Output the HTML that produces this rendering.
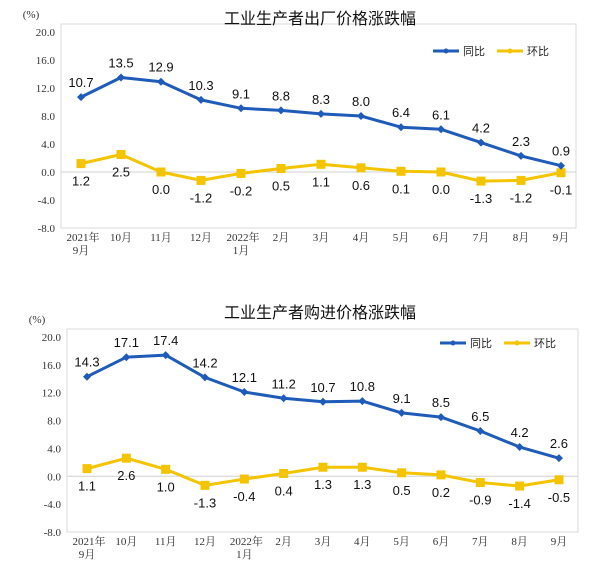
<!DOCTYPE html>
<html><head><meta charset="utf-8"><style>
body{margin:0;background:#fff;width:611px;height:567px;overflow:hidden}
svg text{font-family:"Liberation Sans","Noto Sans CJK SC",sans-serif}
.ax{font-family:"Liberation Serif","Noto Serif CJK SC",serif;font-size:11px;fill:#333}
.lb{font-size:13px;fill:#111}
</style></head><body>
<svg id="s" width="611" height="567" xmlns="http://www.w3.org/2000/svg"></svg>
<script>
const cats1=["2021年|9月","10月","11月","12月","2022年|1月","2月","3月","4月","5月","6月","7月","8月","9月"];
const ppiYoY=[10.7,13.5,12.9,10.3,9.1,8.8,8.3,8.0,6.4,6.1,4.2,2.3,0.9];
const ppiMoM=[1.2,2.5,0.0,-1.2,-0.2,0.5,1.1,0.6,0.1,0.0,-1.3,-1.2,-0.1];
const ippYoY=[14.3,17.1,17.4,14.2,12.1,11.2,10.7,10.8,9.1,8.5,6.5,4.2,2.6];
const ippMoM=[1.1,2.6,1.0,-1.3,-0.4,0.4,1.3,1.3,0.5,0.2,-0.9,-1.4,-0.5];
const yTicks=[20,16,12,8,4,0,-4,-8];
const NS="http://www.w3.org/2000/svg";
const svg=document.getElementById('s');
function el(t,a,p){const e=document.createElementNS(NS,t);for(const k in a)e.setAttribute(k,a[k]);(p||svg).appendChild(e);return e;}
function chart(cfg){
  const g=el('g',{});
  
  
  const y=v=>cfg.y0+(20-v)*(cfg.y1-cfg.y0)/28;
  const x=i=>cfg.x0+i*cfg.dx;
  const box=el('rect',{x:cfg.bl,y:cfg.y0-8,width:cfg.br-cfg.bl,height:cfg.y1-cfg.y0+8,fill:'none',stroke:'#d9d9d9'},g);
  
  
  el('line',{x1:cfg.bl,x2:cfg.br,y1:y(0),y2:y(0),stroke:'#d0d0d0'},g);
  const t=el('text',{x:cfg.tx,y:cfg.ty,'font-size':'16',fill:'#111','text-anchor':'middle'},g);
  t.textContent=cfg.title;
  
  
  const u=el('text',{x:cfg.bl-30,y:cfg.y0-14,class:'ax','text-anchor':'middle'},g);u.textContent='(%)';
  
  
  yTicks.forEach(v=>{const tt=el('text',{x:cfg.bl-6,y:y(v)+4,class:'ax','text-anchor':'end'},g);tt.textContent=v.toFixed(1);
    
    });
  cats1.forEach((c,i)=>{const p=c.split('|');p.forEach((s,j)=>{const tt=el('text',{x:x(i)+(j==0&&p.length>1?2:0),y:cfg.y1+13+j*13,class:'ax','text-anchor':'middle'},g);tt.textContent=s;
    
    });});
  [[cfg.mom,'#f5c400','mom',1],[cfg.yoy,'#1f5bb8','yoy',0]].forEach(([d,col,nm,isM])=>{
    const pl=el('polyline',{points:d.map((v,i)=>x(i)+','+y(v)).join(' '),fill:'none',stroke:col,'stroke-width':3,'stroke-linejoin':'round'},g);
    
    
    d.forEach((v,i)=>{
      let m;
      if(isM){m=el('rect',{x:x(i)-4.5,y:y(v)-4.5,width:9,height:9,fill:col},g);}
      else{m=el('path',{d:`M${x(i)} ${y(v)-4}L${x(i)+4} ${y(v)}L${x(i)} ${y(v)+4}L${x(i)-4} ${y(v)}Z`,fill:col},g);}
      
      
      const lt=el('text',{x:x(i),y:isM?y(v)+22:y(v)-10,class:'lb','text-anchor':'middle'},g);lt.textContent=v.toFixed(1);
      
      
    });
  });
  [['#1f5bb8','同比',cfg.lx],['#f5c400','环比',cfg.lx+64]].forEach(([c,s,lx])=>{
    const lg=el('g',{},g);
    
    
    el('line',{x1:lx,x2:lx+26,y1:cfg.ly,y2:cfg.ly,stroke:c,'stroke-width':3},lg);
    el('circle',{cx:lx+13,cy:cfg.ly,r:2.5,fill:c},lg);
    const tt=el('text',{x:lx+30,y:cfg.ly+4,'font-size':'11',fill:'#222'},lg);tt.textContent=s;
  });
}
chart({name:'ppi-chart',title:'工业生产者出厂价格涨跌幅',tx:320,ty:24,bl:61,br:576,y0:32,y1:228,x0:81,dx:40,yoy:ppiYoY,mom:ppiMoM,lx:433,ly:51});
chart({name:'purchase-price-chart',title:'工业生产者购进价格涨跌幅',tx:320,ty:318,bl:67,br:578,y0:337,y1:532,x0:87,dx:39.33,yoy:ippYoY,mom:ippMoM,lx:440,ly:343});
</script>
</body></html>
